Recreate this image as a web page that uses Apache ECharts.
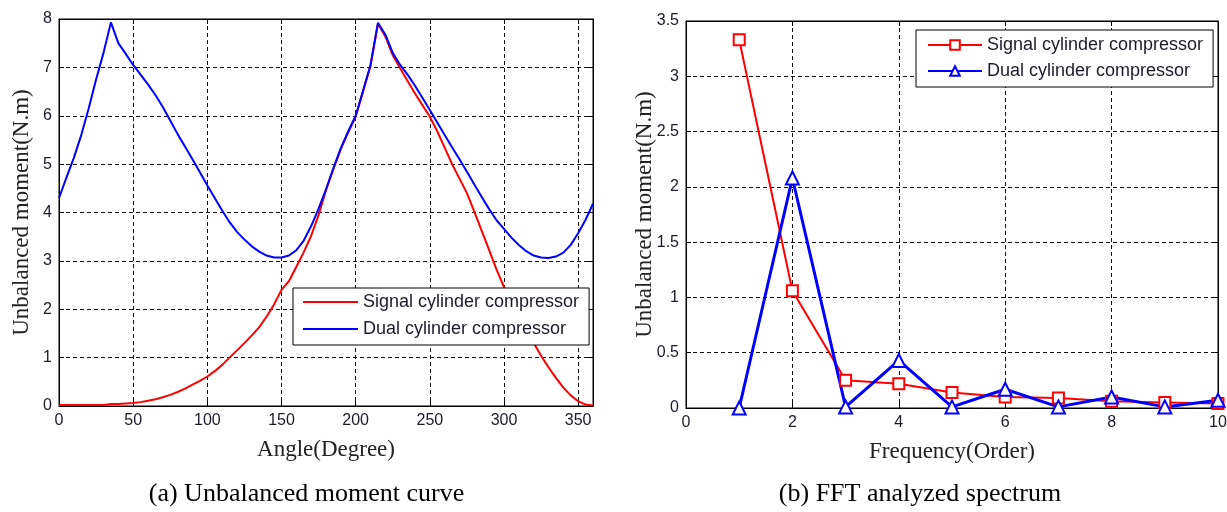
<!DOCTYPE html>
<html>
<head>
<meta charset="utf-8">
<title>Unbalanced moment</title>
<script src="https://cdn.jsdelivr.net/npm/echarts@6/dist/echarts.min.js"></script>
<style>
    html,body{margin:0;padding:0;background:#fff;}
    #moment_line{position:absolute;left:0;top:0;width:613px;height:512px;}
    #fft_line{position:absolute;left:613px;top:0;width:614px;height:512px;}
</style>
</head>
<body>
<div id="moment_line"></div>
<div id="fft_line"></div>
<script>
/** (a) 曲线数据 **/
var angleData = [0,5,10,15,20,25,30,35,40,45,50,55,60,65,70,75,80,85,90,95,100,105,110,115,120,
    125,130,135,140,145,150,155,160,165,170,175,180,185,190,195,200,205,210,215,220,225,230,235,
    240,245,250,255,260,265,270,275,280,285,290,295,300,305,310,315,320,325,330,335,340,345,350,355,360];
var signalMoment = [0.02,0.02,0.02,0.02,0.02,0.02,0.02,0.04,0.04,0.05,0.06,0.08,0.11,0.14,0.18,0.23,
    0.29,0.36,0.44,0.52,0.61,0.72,0.85,1.00,1.15,1.30,1.46,1.63,1.85,2.10,2.40,2.58,2.88,3.18,3.52,
    3.95,4.46,4.90,5.31,5.66,5.98,6.50,7.03,7.90,7.64,7.25,6.98,6.72,6.46,6.22,5.98,5.68,5.34,5.00,
    4.70,4.40,4.02,3.62,3.22,2.82,2.46,2.12,1.82,1.56,1.30,1.04,0.80,0.58,0.38,0.22,0.10,0.03,0.01];
var dualMoment = [4.30,4.72,5.13,5.60,6.15,6.75,7.30,7.93,7.50,7.28,7.05,6.85,6.65,6.43,6.18,5.90,
    5.62,5.36,5.10,4.83,4.56,4.30,4.04,3.80,3.60,3.44,3.30,3.19,3.11,3.07,3.07,3.11,3.22,3.42,3.72,
    4.08,4.48,4.92,5.33,5.68,6.00,6.52,7.05,7.92,7.68,7.30,7.05,6.85,6.62,6.37,6.12,5.86,5.60,5.35,
    5.10,4.84,4.58,4.32,4.07,3.84,3.66,3.48,3.33,3.20,3.11,3.07,3.06,3.09,3.17,3.33,3.57,3.85,4.18];

/** (b) 频谱数据 **/
var orderData = [1,2,3,4,5,6,7,8,9,10];
var signalFft = [3.33,1.06,0.25,0.22,0.14,0.10,0.09,0.06,0.05,0.04];
var dualFft = [0.00,2.08,0.01,0.43,0.01,0.17,0.01,0.10,0.01,0.07];

var seriesNames = ['Signal cylinder compressor','Dual cylinder compressor'];

var sansFont = 'Liberation Sans, Arial, sans-serif';
var serifFont = 'Liberation Serif, Times New Roman, serif';

window.onload = function(){
    getMomentChart();
    getFftChart();
};

function pairData(xs, ys){
    var arr = [];
    for (var i = 0; i < xs.length; i++) {
        arr.push([xs[i], ys[i]]);
    }
    return arr;
}

/** 坐标轴 (带虚线网格, 刻度向内) **/
function valueAxis(min, max, interval, pos, main){
    return {
        type: 'value',
        position: pos,
        min: min,
        max: max,
        interval: interval,
        nameMoveOverlap: false,
        axisLine: {show: true, onZero: false, lineStyle: {color: '#000', width: 1}},
        axisTick: {show: true, inside: true, length: 5, lineStyle: {color: '#000'}},
        axisLabel: {
            show: main,
            showMaxLabel: true,
            color: '#1b1b2a',
            fontFamily: sansFont,
            fontSize: 16,
            margin: 7
        },
        splitLine: {
            show: main,
            lineStyle: {color: '#111', width: 1, type: [4, 3]}
        }
    };
}

/** (a) 不平衡力矩曲线 **/
function getMomentChart(){
    var myEcharts = echarts.init(document.getElementById('moment_line'));
    var xMain = valueAxis(0, 360, 50, 'bottom', true);
    xMain.axisLabel.showMaxLabel = false;
    xMain.name = 'Angle(Degree)';
    xMain.nameLocation = 'middle';
    xMain.nameGap = 32;
    xMain.nameTextStyle = {fontFamily: serifFont, fontSize: 23, color: '#222'};
    var yMain = valueAxis(0, 8, 1, 'left', true);
    yMain.name = 'Unbalanced moment(N.m)';
    yMain.nameLocation = 'middle';
    yMain.nameGap = 26;
    yMain.nameTextStyle = {fontFamily: serifFont, fontSize: 23, color: '#222'};
    var option = {
        animation: false,
        backgroundColor: '#fff',
        grid: {left: 59, top: 19, width: 534, height: 387, show: true, borderColor: '#000', borderWidth: 1,
            containLabel: false, outerBoundsMode: 'none'},
        xAxis: [xMain, valueAxis(0, 360, 50, 'top', false)],
        yAxis: [yMain, valueAxis(0, 8, 1, 'right', false)],
        legend: {
            left: 293,
            top: 288,
            orient: 'vertical',
            data: seriesNames,
            icon: 'rect',
            itemWidth: 55,
            itemHeight: 2,
            itemGap: 9,
            padding: [5, 10, 7, 10],
            borderColor: '#000',
            borderWidth: 1,
            borderRadius: 0,
            backgroundColor: '#fff',
            textStyle: {fontFamily: sansFont, fontSize: 18, color: '#1b1b2a'}
        },
        graphic: [{
            type: 'text',
            left: 'center',
            top: 481,
            style: {text: '(a) Unbalanced moment curve', font: '26px ' + serifFont, fill: '#000'}
        }],
        series: [
            {
                name: seriesNames[0],
                type: 'line',
                symbol: 'none',
                data: pairData(angleData, signalMoment),
                lineStyle: {color: '#ff0000', width: 2},
                itemStyle: {color: '#ff0000'}
            },
            {
                name: seriesNames[1],
                type: 'line',
                symbol: 'none',
                data: pairData(angleData, dualMoment),
                lineStyle: {color: '#0000ff', width: 2},
                itemStyle: {color: '#0000ff'}
            }
        ]
    };
    myEcharts.setOption(option);
}

/** (b) FFT 频谱 **/
function getFftChart(){
    var myEcharts = echarts.init(document.getElementById('fft_line'));
    var xMain = valueAxis(0, 10, 2, 'bottom', true);
    xMain.name = 'Frequency(Order)';
    xMain.nameLocation = 'middle';
    xMain.nameGap = 32;
    xMain.nameTextStyle = {fontFamily: serifFont, fontSize: 23, color: '#222'};
    var yMain = valueAxis(0, 3.5, 0.5, 'left', true);
    yMain.name = 'Unbalanced moment(N.m)';
    yMain.nameLocation = 'middle';
    yMain.nameGap = 30;
    yMain.nameTextStyle = {fontFamily: serifFont, fontSize: 23, color: '#222'};
    var option = {
        animation: false,
        backgroundColor: '#fff',
        grid: {left: 73, top: 21, width: 532, height: 387, show: true, borderColor: '#000', borderWidth: 1,
            containLabel: false, outerBoundsMode: 'none'},
        xAxis: [xMain, valueAxis(0, 10, 2, 'top', false)],
        yAxis: [yMain, valueAxis(0, 3.5, 0.5, 'right', false)],
        legend: {
            left: 303,
            top: 30,
            orient: 'vertical',
            data: seriesNames,
            itemWidth: 54,
            itemHeight: 12,
            itemGap: 8,
            padding: [6, 10, 7, 11],
            borderColor: '#000',
            borderWidth: 1,
            borderRadius: 0,
            backgroundColor: '#fff',
            textStyle: {fontFamily: sansFont, fontSize: 18, color: '#1b1b2a'}
        },
        graphic: [{
            type: 'text',
            left: 'center',
            top: 481,
            style: {text: '(b) FFT analyzed spectrum', font: '26px ' + serifFont, fill: '#000'}
        }],
        series: [
            {
                name: seriesNames[0],
                type: 'line',
                symbol: 'emptyRect',
                symbolSize: 11,
                data: pairData(orderData, signalFft),
                lineStyle: {color: '#ff0000', width: 2},
                itemStyle: {color: '#ff0000', borderWidth: 2}
            },
            {
                name: seriesNames[1],
                type: 'line',
                symbol: 'emptyTriangle',
                symbolSize: 13,
                data: pairData(orderData, dualFft),
                lineStyle: {color: '#0000ff', width: 3},
                itemStyle: {color: '#0000ff', borderWidth: 2}
            }
        ]
    };
    myEcharts.setOption(option);
}
</script>
</body>
</html>
